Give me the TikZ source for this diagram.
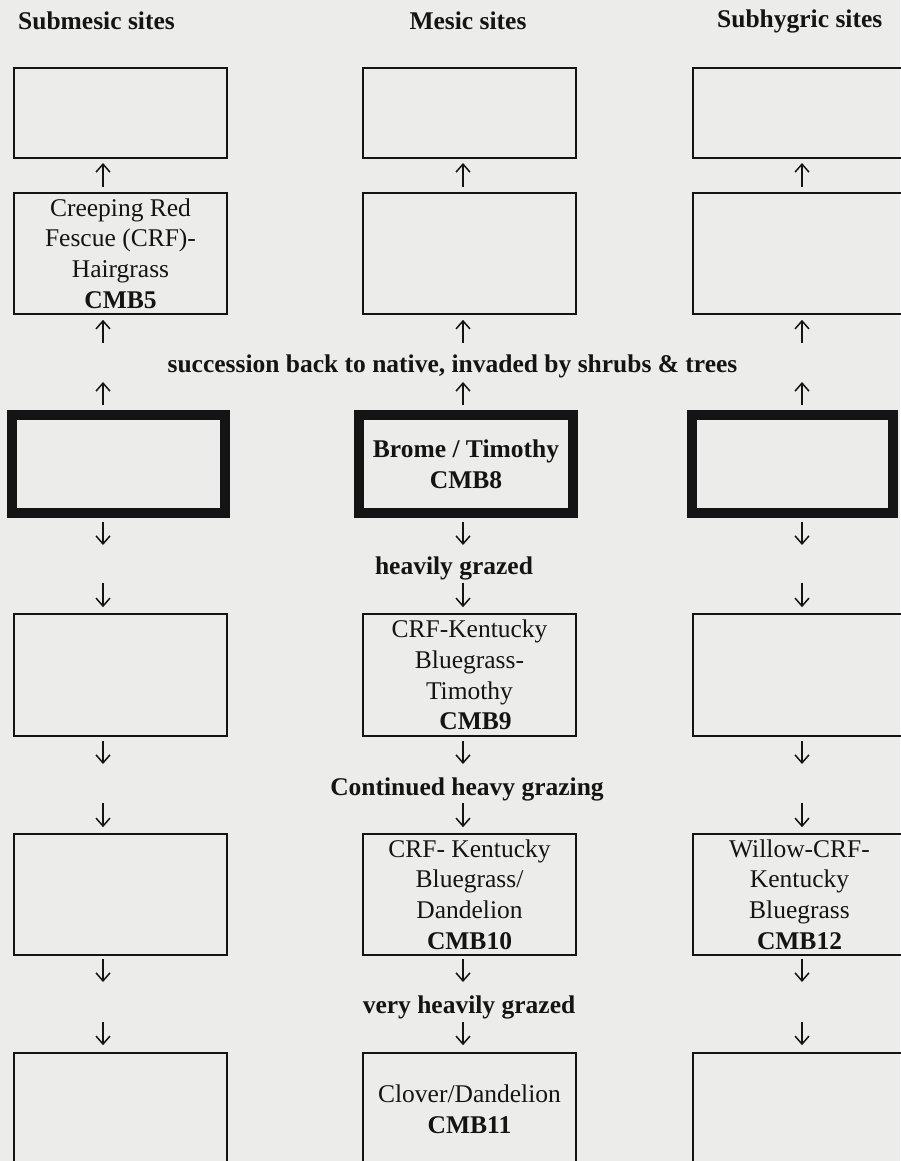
\documentclass[tikz,border=0pt]{standalone}
\usepackage{fontspec}
\setmainfont{Liberation Serif}
\usetikzlibrary{arrows.meta}
\definecolor{paper}{RGB}{236,236,234}
\definecolor{ink}{RGB}{20,20,20}

\begin{document}
\begin{tikzpicture}[x=1pt, y=-1pt,
  font=\fontsize{25.5pt}{30.7pt}\selectfont,
  thinbox/.style={draw=ink, line width=2pt, inner sep=0pt, outer sep=0pt, minimum width=213pt, align=center, text=ink},
  thickbox/.style={draw=ink, line width=10pt, inner sep=0pt, outer sep=0pt, minimum height=98pt, align=center, text=ink, font=\fontsize{25.5pt}{30.7pt}\selectfont\bfseries},
  note/.style={font=\fontsize{25.5pt}{30.7pt}\selectfont\bfseries, text=ink, inner sep=0pt, text height=18pt, text depth=6pt},
  uparr/.style={-{Straight Barb[length=8pt,width=14pt]}, line width=1.5pt, draw=ink},
  downarr/.style={uparr}
]
\fill[paper] (0,0) rectangle (900,1161);
\useasboundingbox (0,0) rectangle (900,1161);

% column headings
\node[note, anchor=base west] (hSub) at (18,30) {Submesic sites};
\node[note, anchor=base] (hMes) at (468,30) {Mesic sites};
\node[note, anchor=base west] (hHyg) at (717,28) {Subhygric sites};

% submesic column
\node[thinbox, minimum height=90pt] (sub1) at (120.5,113) {};
\node[thinbox, minimum height=121pt] (sub2) at (120.5,253.5) {Creeping Red\\Fescue (CRF)-\\Hairgrass\\\textbf{CMB5}};
\node[thickbox, minimum width=213pt] (sub3) at (118.5,464) {};
\node[thinbox, minimum height=122pt] (sub4) at (120.5,675) {};
\node[thinbox, minimum height=121pt] (sub5) at (120.5,894.5) {};
\node[thinbox, minimum height=112pt] (sub6) at (120.5,1109) {};

% mesic column
\node[thinbox, minimum height=90pt] (mes1) at (469.5,113) {};
\node[thinbox, minimum height=121pt] (mes2) at (469.5,253.5) {};
\node[thickbox, minimum width=214pt] (mes3) at (466,464) {Brome / Timothy\\CMB8};
\node[thinbox, minimum height=122pt] (mes4) at (469.5,675) {CRF-Kentucky\\Bluegrass-\\Timothy\\\hspace*{12pt}\textbf{CMB9}};
\node[thinbox, minimum height=121pt] (mes5) at (469.5,894.5) {CRF- Kentucky\\Bluegrass/\\Dandelion\\\textbf{CMB10}};
\node[thinbox, minimum height=112pt] (mes6) at (469.5,1109) {Clover/Dandelion\\\textbf{CMB11}};

% subhygric column
\node[thinbox, minimum height=90pt] (hyg1) at (799.5,113) {};
\node[thinbox, minimum height=121pt] (hyg2) at (799.5,253.5) {};
\node[thickbox, minimum width=201pt] (hyg3) at (792.5,464) {};
\node[thinbox, minimum height=122pt] (hyg4) at (799.5,675) {};
\node[thinbox, minimum height=121pt] (hyg5) at (799.5,894.5) {Willow-CRF-\\Kentucky\\Bluegrass\\\textbf{CMB12}};
\node[thinbox, minimum height=112pt] (hyg6) at (799.5,1109) {};

% transitions
\node[note, anchor=base] (succ) at (452.5,372) {succession back to native, invaded by shrubs \& trees};
\node[note, anchor=base] (heavy) at (454,574) {heavily grazed};
\node[note, anchor=base] (cont) at (467,795) {Continued heavy grazing};
\node[note, anchor=base] (very) at (469,1013) {very heavily grazed};

% arrows
\foreach \col/\ax in {sub/103, mes/463, hyg/802}{
  \coordinate (ax\col) at (\ax,0);
  \draw[uparr] ([yshift=6pt]\col2.north -| ax\col) -- ++(0,-24);
  \draw[uparr] ([yshift=11pt]succ.north -| ax\col) -- ++(0,-23);
  \draw[uparr] ([yshift=10pt]\col3.north -| ax\col) -- ++(0,-23);
  \draw[downarr] ([yshift=-9pt]\col3.south -| ax\col) -- ++(0,23);
  \draw[downarr] ([yshift=-3pt]heavy.south -| ax\col) -- ++(0,24);
  \draw[downarr] ([yshift=-5pt]\col4.south -| ax\col) -- ++(0,23);
  \draw[downarr] ([yshift=-2pt]cont.south -| ax\col) -- ++(0,24);
  \draw[downarr] ([yshift=-4pt]\col5.south -| ax\col) -- ++(0,23);
  \draw[downarr] ([yshift=-3pt]very.south -| ax\col) -- ++(0,23);
}
\end{tikzpicture}
\end{document}
